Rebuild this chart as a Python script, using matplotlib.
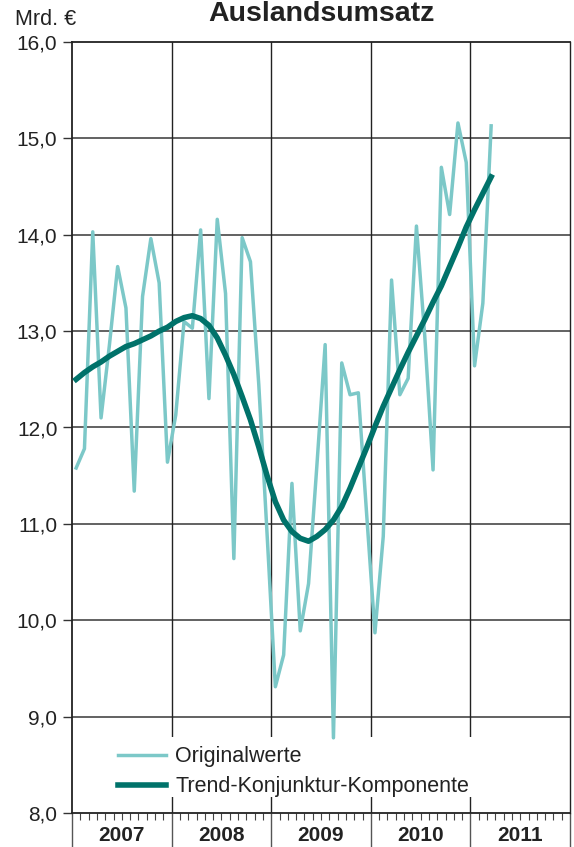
import matplotlib
matplotlib.use("Agg")
import matplotlib.pyplot as plt
from matplotlib.patches import Rectangle
import numpy as np

plt.rcParams['font.family'] = ['Liberation Sans', 'DejaVu Sans']

# ---- data (monthly, Jan 2007 .. Mar 2011) ----
years = ["2007", "2008", "2009", "2010", "2011"]
original = [11.58, 11.78, 14.03, 12.10, 12.85, 13.67, 13.24, 11.34, 13.36, 13.96, 13.50, 11.64,
            12.13, 13.10, 13.03, 14.05, 12.30, 14.16, 13.39, 10.64, 13.97, 13.72, 12.45, 10.90,
            9.31, 9.64, 11.42, 9.89, 10.38, 11.60, 12.86, 8.78, 12.67, 12.34, 12.36, 11.10,
            9.87, 10.87, 13.53, 12.34, 12.51, 14.09, 12.95, 11.56, 14.70, 14.21, 15.16, 14.75,
            12.64, 13.29, 15.13]
trend = [12.50, 12.57, 12.63, 12.68, 12.74, 12.79, 12.84, 12.87, 12.91, 12.95, 13.00, 13.04,
         13.10, 13.14, 13.16, 13.13, 13.06, 12.93, 12.75, 12.55, 12.32, 12.08, 11.80, 11.50,
         11.23, 11.04, 10.92, 10.85, 10.82, 10.87, 10.94, 11.04, 11.18, 11.37, 11.58, 11.79,
         12.01, 12.22, 12.41, 12.60, 12.78, 12.95, 13.12, 13.30, 13.47, 13.67, 13.87, 14.08,
         14.26, 14.43, 14.60]
y_ticks = [8.0, 9.0, 10.0, 11.0, 12.0, 13.0, 14.0, 15.0, 16.0]
title = "Auslandsumsatz"
unit = "Mrd. €"
labels = ["Originalwerte", "Trend-Konjunktur-Komponente"]

c_orig = "#7cc8c8"
c_trend = "#00726a"

W, H = 574, 847
fig = plt.figure(figsize=(W / 100, H / 100), dpi=100)
L, R, T, B = 72, 570, 42, 813
ax = fig.add_axes([L / W, 1 - B / H, (R - L) / W, (B - T) / H])

n_months = len(years) * 12
x = np.arange(len(original)) + 0.5
xt = np.arange(len(trend)) + 0.5

ax.set_xlim(0, n_months)
ax.set_ylim(8.0, 16.0)

# grid
for yv in y_ticks[1:-1]:
    ax.axhline(yv, color="#555555", lw=1.3, zorder=1)
for k in range(1, len(years)):
    ax.axvline(k * 12, color="#222222", lw=1.0, zorder=1)

# white legend backdrop
ax.add_patch(Rectangle((0.005, (B - 797) / (B - T)), 0.985, (797 - 737) / (B - T),
                       transform=ax.transAxes, facecolor="white", edgecolor="none", zorder=2))

l1, = ax.plot(x, original, color=c_orig, lw=2.5, zorder=3)
l2, = ax.plot(xt, trend, color=c_trend, lw=4.0, zorder=4)

leg = ax.legend([l1, l2], labels, loc="lower left", bbox_to_anchor=(0.075, 0.009),
                frameon=False, fontsize=15.5, handlelength=2.25, handletextpad=0.4,
                labelspacing=0.42, borderaxespad=0)
for t in leg.get_texts():
    t.set_color("#222222")

# spines
for s in ["left", "bottom", "top", "right"]:
    ax.spines[s].set_color("#222222")
    ax.spines[s].set_linewidth(1.3)
ax.spines["right"].set_linewidth(1.0)

# y ticks
ax.set_yticks(y_ticks)
ax.set_yticklabels([f"{v:.1f}".replace(".", ",") for v in y_ticks])
ax.tick_params(axis="y", direction="out", length=6.5, width=1.0, color="#333333",
               labelsize=15, pad=4, labelcolor="#222222")

# x ticks: year boundaries long, month boundaries short
ax.set_xticks(np.arange(0, n_months + 1, 12))
ax.set_xticklabels([])
ax.set_xticks(np.arange(0, n_months + 1, 1), minor=True)
ax.tick_params(axis="x", which="major", direction="out", length=26, width=1.0, color="#555555")
ax.tick_params(axis="x", which="minor", direction="out", length=5, width=0.8, color="#444444")

for i, yr in enumerate(years):
    ax.annotate(yr, xy=(i * 12 + 6, 0), xycoords=("data", "axes fraction"),
                xytext=(0, -9), textcoords="offset points", ha="center", va="top",
                fontsize=15, fontweight="bold", color="#222222", annotation_clip=False)

fig.text((L + R) / 2 / W, 1 - 21 / H, title, ha="center", va="baseline",
         fontsize=20.5, fontweight="bold", color="#222222")
fig.text(15 / W, 1 - 25 / H, unit, ha="left", va="baseline", fontsize=15.5, color="#222222")

fig.savefig("out.png", dpi=100)
